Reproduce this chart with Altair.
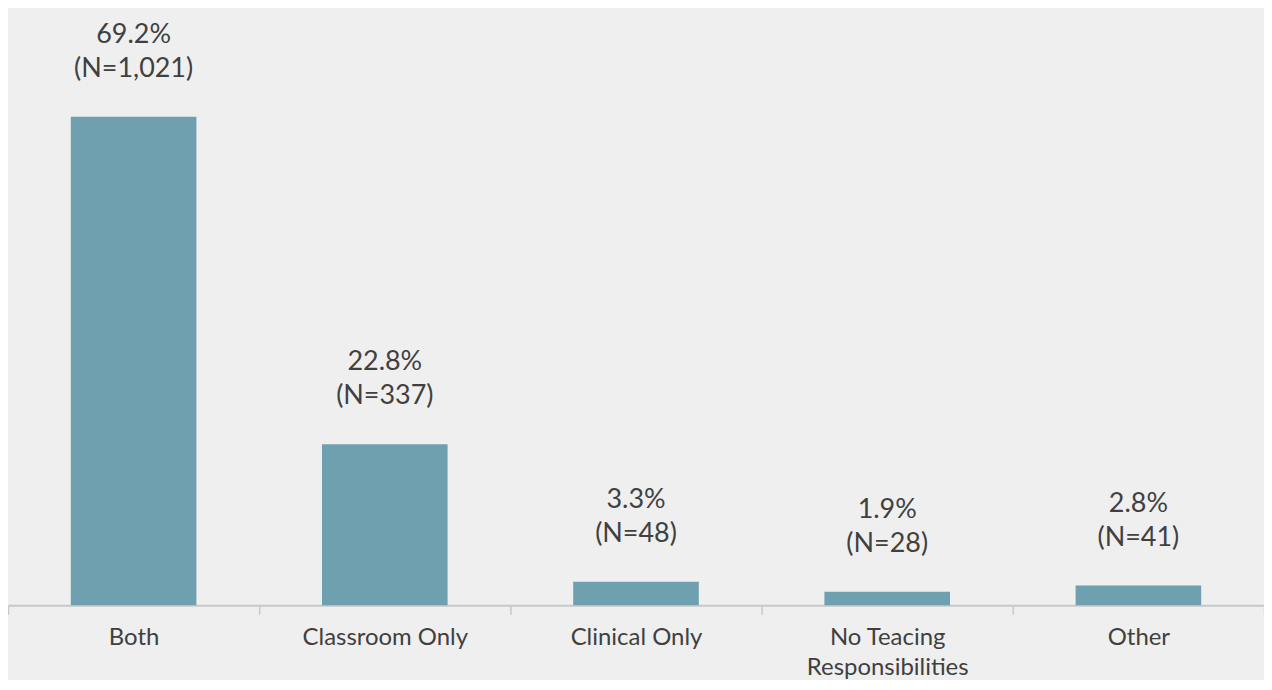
import altair as alt
import pandas as pd

categories = ["Both", "Classroom Only", "Clinical Only", "No Teacing Responsibilities", "Other"]
percents = [69.2, 22.8, 3.3, 1.9, 2.8]
counts = [1021, 337, 48, 28, 41]

df = pd.DataFrame({
    "category": categories,
    "pct": percents,
    "n": counts,
})
df["label"] = [f"{p}%\n(N={n:,})" for p, n in zip(percents, counts)]

FONT = "Lato"
TEXT = "#404040"

x = alt.X(
    "category:N",
    sort=categories,
    scale=alt.Scale(paddingInner=0, paddingOuter=0),
    axis=alt.Axis(
        title=None,
        labelAngle=0,
        labelFontSize=24,
        labelColor=TEXT,
        labelFont=FONT,
        labelPadding=11,
        labelLineHeight=31,
        labelExpr="datum.label == 'No Teacing Responsibilities' ? ['No Teacing', 'Responsibilities'] : datum.label",
        domainColor="#c8c8c8",
        domainWidth=2,
        tickColor="#c8c8c8",
        tickWidth=1.5,
        tickSize=9,
        tickBand="extent",
    ),
)
y = alt.Y("pct:Q", scale=alt.Scale(domain=[0, 84.45]), axis=None)

bars = alt.Chart(df).mark_bar(color="#6fa0b0", width=alt.RelativeBandSize(0.5)).encode(x=x, y=y)
labels = alt.Chart(df).mark_text(
    baseline="bottom", dy=-68, fontSize=27, lineHeight=34, lineBreak="\n",
    font=FONT, color=TEXT,
).encode(x=x, y=y, text="label:N")

chart = (bars + labels).properties(
    width=1260, height=598,
    autosize=alt.AutoSizeParams(type="none"),
    padding={"left": 0, "top": 0, "right": 0, "bottom": 74},
    background="#efefef",
).configure_view(stroke=None)

chart.save("out.html", embed_options={"renderer": "svg", "actions": False})
